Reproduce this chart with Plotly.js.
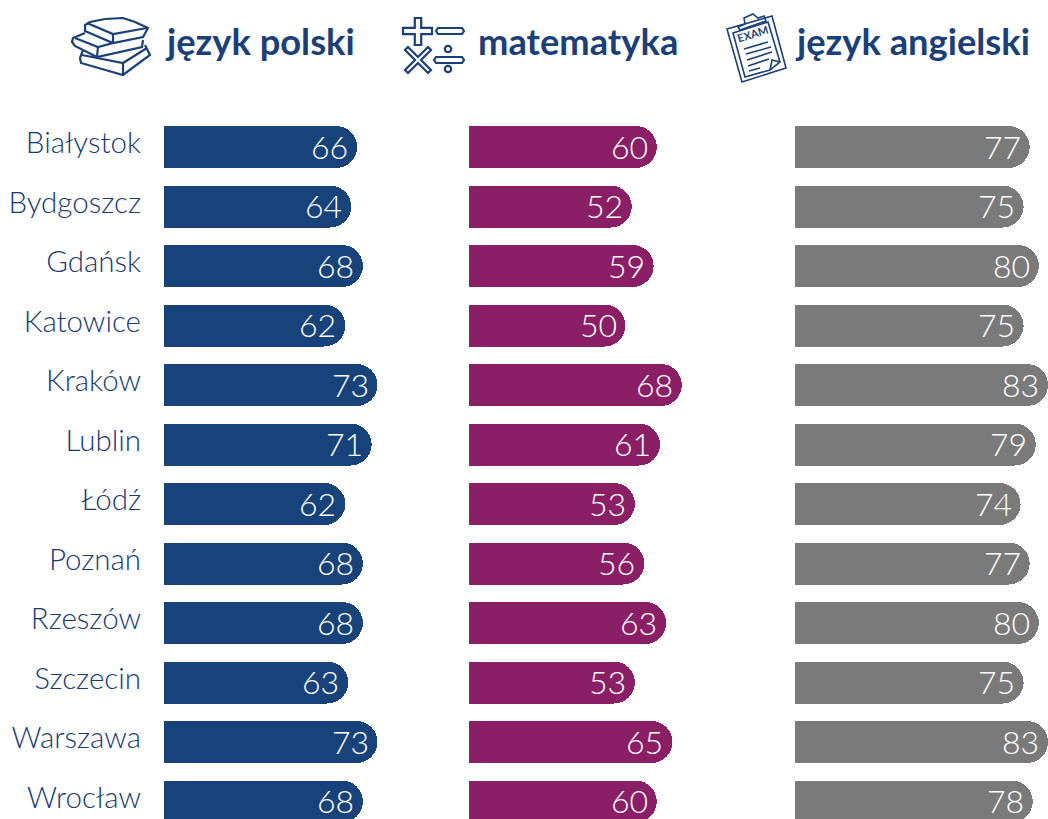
<!DOCTYPE html>
<html><head><meta charset="utf-8">
<script src="https://cdn.plot.ly/plotly-3.0.1.min.js"></script>
<style>html,body{margin:0;padding:0;background:#fff;overflow:hidden}</style>
</head><body><div id="chart" style="width:1048px;height:819px"></div>
<script>
const cities = ["Białystok","Bydgoszcz","Gdańsk","Katowice","Kraków","Lublin","Łódź","Poznań","Rzeszów","Szczecin","Warszawa","Wrocław"];
const polski = [66,64,68,62,73,71,62,68,68,63,73,68];
const matematyka = [60,52,59,50,68,61,53,56,63,53,65,60];
const angielski = [77,75,80,75,83,79,74,77,80,75,83,78];
const subjects = ["język polski","matematyka","język angielski"];
const colors = ["#17427a","#8a1f66","#7a7a7b"];
const W=1048,H=819;
const firstRow=147,rowStep=59.5,barH=42;
const yr=[(H-firstRow)/rowStep,-firstRow/rowStep];
const panels=[[164,2.925,80],[469,3.13,80],[795,3.05,83]];
const series=[polski,matematyka,angielski];
const data=series.map((v,i)=>({
  type:'bar',orientation:'h',y:cities,x:v,
  xaxis:i?'x'+(i+1):'x',yaxis:i?'y'+(i+1):'y',
  width:barH/rowStep,
  marker:{color:colors[i],cornerradius:21},
  textposition:'none',
  hoverinfo:'skip',showlegend:false
}));
const layout={width:W,height:H,margin:{l:0,r:0,t:0,b:0,pad:0},paper_bgcolor:'#fff',plot_bgcolor:'#fff',bargap:0,shapes:[],annotations:[]};
panels.forEach((p,i)=>{
  const s=i?String(i+1):'';
  layout['xaxis'+s]={domain:[p[0]/W,(p[0]+p[1]*p[2])/W],range:[0,p[2]],visible:false,fixedrange:true,anchor:'y'+s};
  layout['yaxis'+s]={domain:[0,1],range:yr,type:'category',anchor:'x'+s,fixedrange:true,showgrid:false,zeroline:false,showline:false,
    showticklabels:i===0,ticks:'',ticklabelstandoff:22,ticklabelshift:4,tickfont:{family:'Lato',size:29.5,color:'#183a76',weight:300}};
  series[i].forEach((val,k)=>layout.annotations.push({
    xref:'x'+s,yref:'y'+s,x:val,y:cities[k],xanchor:'right',yanchor:'middle',xshift:-9,yshift:1,borderpad:0,borderwidth:0,
    text:String(val),showarrow:false,font:{family:'Lato',size:32,color:'#fff',weight:300}}));
});
const ink='#1b3f78';
const px=(x,y)=>(x/W).toFixed(5)+','+(1-y/H).toFixed(5);
function poly(pts,close,lw){
  layout.shapes.push({type:'path',xref:'paper',yref:'paper',line:{color:ink,width:lw||2.2},
   path:'M'+pts.map(p=>px(p[0],p[1])).join('L')+(close?'Z':'')});
}
// books icon
poly([[85,31],[85,25],[90,22],[105,19],[123,18],[135,22],[148,28],[143,37],[113,43]],true);
poly([[87,23],[113,34],[147,28]]);
poly([[113,33],[113,43]]);
poly([[85,33],[73,38],[72,42],[75,46],[97,57],[142,47],[143,40]]);
poly([[75,38],[98,47],[113,43]]);
poly([[98,47],[97,57]]);
poly([[83,50],[80,58],[81,63],[123,75],[150,55],[145,45]]);
poly([[82,55],[123,63],[147,48]]);
poly([[123,63],[123,75]]);
// operators icon
const hw=3.2;
poly([[418-hw,18],[418+hw,18],[418+hw,31-hw],[432,31-hw],[432,31+hw],[418+hw,31+hw],[418+hw,45],[418-hw,45],[418-hw,31+hw],[403,31+hw],[403,31-hw],[418-hw,31-hw]],true);
poly([[438,28],[462,28],[464,31],[462,34],[438,34],[436,31]],true);
const d=10,e=3;
poly([[418,60-e],[418+d,60-d-e],[418+d+e,60-d],[418+e,60],[418+d+e,60+d],[418+d,60+d+e],[418,60+e],[418-d,60+d+e],[418-d-e,60+d],[418-e,60],[418-d-e,60-d],[418-d,60-d-e]],true);
poly([[436,57],[462,57],[464,60],[462,63],[436,63],[434,60]],true);
[[448,49],[448,69]].forEach(c=>layout.shapes.push({type:'circle',xref:'paper',yref:'paper',line:{color:ink,width:2.2},
  x0:(c[0]-3.2)/W,x1:(c[0]+3.2)/W,y0:1-(c[1]+3.2)/H,y1:1-(c[1]-3.2)/H}));
// exam icon
poly([[727,29],[772,16],[786,68],[742,82]],true,1.6);
poly([[733,33],[768,22],[780,62],[770,70],[745,77]],true,1.6);
poly([[738,27],[745,24],[744,18],[753,14],[758,18],[764,16],[766,21],[740,30]],true,1.6);
[[744,49,768,42],[746,54,771,47],[747,60,772,52],[748,66,769,59],[749,71,760,68]].forEach(l=>poly([[l[0],l[1]],[l[2],l[3]]],false,1.6));
poly([[770,70],[772,60],[780,62]],false,1.6);
layout.annotations.push({xref:'paper',yref:'paper',x:753/W,y:1-34/H,xanchor:'center',yanchor:'middle',text:'EXAM',showarrow:false,textangle:-17,
  font:{family:'Lato',size:11,color:ink,weight:700}});
// headers
[[163,subjects[0]],[476,subjects[1]],[793,subjects[2]]].forEach(t=>layout.annotations.push({
  xref:'paper',yref:'paper',x:t[0]/W,y:1-41/H,xanchor:'left',yanchor:'middle',text:t[1],showarrow:false,
  font:{family:'Lato',size:36.3,color:ink,weight:700}}));
Plotly.newPlot('chart',data,layout,{displayModeBar:false,staticPlot:true});
</script></body></html>
